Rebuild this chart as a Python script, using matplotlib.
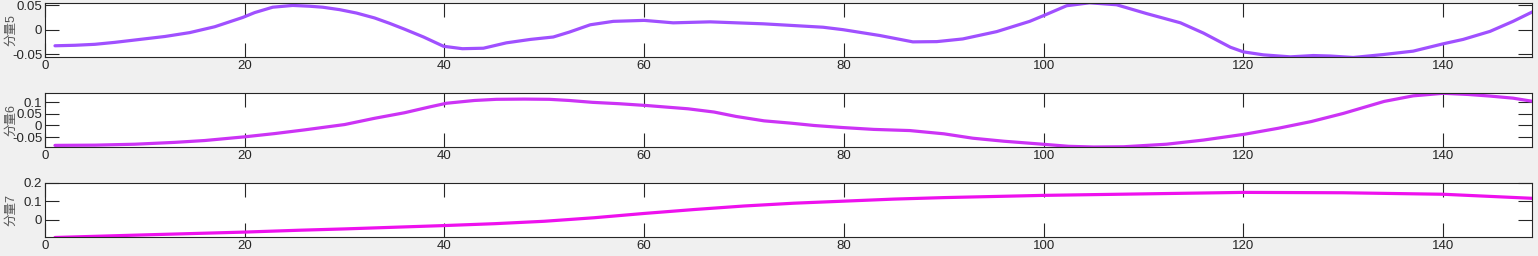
import matplotlib
matplotlib.use("Agg")
import matplotlib.pyplot as plt

plt.rcParams['font.family'] = ['Liberation Sans', 'Noto Sans CJK SC', 'DejaVu Sans']

# ---- data ----
comp5_x = [1, 3, 5, 7, 9.5, 12, 14.5, 17, 19.8, 21, 22.8, 24.8, 26.5, 27.8, 29.5, 31.2,
           33, 34.5, 36, 37.9, 39.9, 41.8, 43.9, 46.2, 48.6, 50.9, 52.5, 54.6, 56.9, 60,
           62.9, 66.6, 71.9, 77.9, 79.9, 83.6, 86.9, 89.3, 91.9, 95.3, 98.6, 99.9, 102.3,
           104.6, 107.3, 110.3, 113.7, 116, 118.7, 120, 122, 124.7, 127, 128.7, 131, 134,
           137, 140, 142, 144.7, 147, 149]
comp5_y = [-0.033, -0.032, -0.030, -0.026, -0.020, -0.014, -0.006, 0.006, 0.025, 0.035,
           0.046, 0.0496, 0.048, 0.046, 0.041, 0.034, 0.024, 0.013, 0.001, -0.015, -0.034,
           -0.039, -0.038, -0.027, -0.020, -0.015, -0.005, 0.010, 0.017, 0.019, 0.014,
           0.016, 0.012, 0.005, 0.000, -0.012, -0.025, -0.0245, -0.019, -0.004, 0.017,
           0.028, 0.049, 0.055, 0.051, 0.033, 0.014, -0.007, -0.036, -0.0455, -0.0516,
           -0.0557, -0.053, -0.054, -0.057, -0.051, -0.044, -0.029, -0.020, -0.0035,
           0.017, 0.037]

comp6_x = [1, 5, 9, 13, 16, 20, 23, 26, 30, 33, 36, 38.5, 40.2, 43, 45.2, 48, 50.5, 52.5,
           54.8, 57.5, 60.3, 64.4, 67, 69.2, 72, 74.7, 77, 79.9, 83, 86.6, 90, 92.9, 96,
           99.9, 102.5, 105, 108, 112.3, 116, 120.1, 123.5, 126.8, 130, 134.1, 137, 140,
           142.5, 144.7, 147, 149]
comp6_y = [-0.086, -0.085, -0.081, -0.073, -0.065, -0.049, -0.035, -0.019, 0.004, 0.031,
           0.055, 0.080, 0.096, 0.108, 0.113, 0.114, 0.113, 0.108, 0.100, 0.094, 0.086,
           0.072, 0.058, 0.039, 0.020, 0.010, 0.000, -0.009, -0.017, -0.022, -0.036,
           -0.055, -0.068, -0.081, -0.090, -0.093, -0.092, -0.081, -0.063, -0.038,
           -0.012, 0.017, 0.052, 0.104, 0.128, 0.139, 0.134, 0.127, 0.118, 0.104]

comp7_x = [1, 10, 20, 25.5, 30, 40, 45, 50, 55, 60, 65, 70, 75, 80, 85, 90, 100, 110,
           120, 130, 140, 149]
comp7_y = [-0.094, -0.080, -0.065, -0.055, -0.048, -0.030, -0.020, -0.007, 0.012, 0.035,
           0.056, 0.075, 0.090, 0.101, 0.112, 0.120, 0.132, 0.140, 0.148, 0.146, 0.138,
           0.116]

labels = ['分量5', '分量6', '分量7']
xticks = [0, 20, 40, 60, 80, 100, 120, 140]
yticks = [[-0.05, 0, 0.05], [-0.05, 0, 0.05, 0.1], [0, 0.1, 0.2]]
yticklabels = [['-0.05', '0', '0.05'], ['-0.05', '0', '0.05', '0.1'], ['0', '0.1', '0.2']]
ylims = [(-0.056, 0.054), (-0.093, 0.139), (-0.093, 0.2)]
colors = ['#a050ff', '#cc33f5', '#ee11ee']

series = [(comp5_x, comp5_y), (comp6_x, comp6_y), (comp7_x, comp7_y)]

W, H = 1538, 256
fig = plt.figure(figsize=(W / 100, H / 100), dpi=100)
fig.patch.set_facecolor('#f0f0f0')

# axes boxes in pixels: (top, bottom)
boxes = [(3.3, 57.0), (93.3, 147.0), (182.7, 237.3)]
left_px, right_px = 45, 1532

for i, ((xs, ys), (top, bot)) in enumerate(zip(series, boxes)):
    ax = fig.add_axes([left_px / W, (H - bot) / H, (right_px - left_px) / W, (bot - top) / H])
    ax.set_facecolor('white')
    ax.plot(xs, ys, color=colors[i], linewidth=2.3, solid_capstyle='round',
            solid_joinstyle='round')
    ax.set_xlim(0, 148.9)
    ax.set_ylim(*ylims[i])
    ax.set_xticks(xticks)
    ax.set_xticklabels([str(t) for t in xticks])
    ax.set_yticks(yticks[i])
    ax.set_yticklabels(yticklabels[i])
    ax.tick_params(direction='in', length=10, width=0.8, color='#262626',
                   top=True, right=True, labelsize=9.5, labelcolor='#262626', pad=2)
    for s in ax.spines.values():
        s.set_color('#262626')
        s.set_linewidth(0.8)
    ax.set_ylabel(labels[i], fontsize=9, color='#555555')
    ax.yaxis.set_label_coords(-(left_px - 17) / (right_px - left_px), 0.5)

fig.savefig('out.png', dpi=100, facecolor=fig.get_facecolor())
